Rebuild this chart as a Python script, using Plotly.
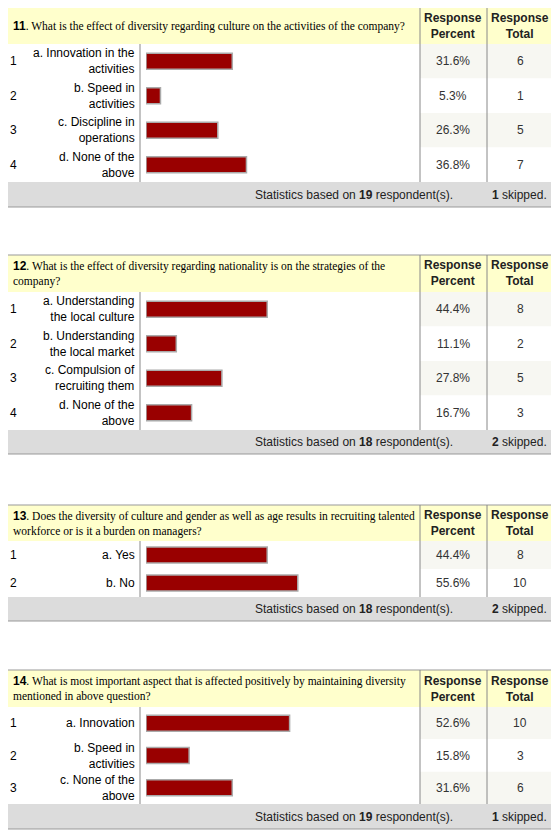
import plotly.graph_objects as go

W, H = 559, 833
OFF = 8  # default page margin of the html body

# ---- data ----
q_numbers = ["11", "12", "13", "14"]
q_texts = [
    "What is the effect of diversity regarding culture on the activities of the company?",
    "What is the effect of diversity regarding nationality is on the strategies of the<br>company?",
    "Does the diversity of culture and gender as well as age results in recruiting talented<br>workforce or is it a burden on managers?",
    "What is most important aspect that is affected positively by maintaining diversity<br>mentioned in above question?",
]
q_labels = [
    ["a. Innovation in the<br>activities", "b. Speed in<br>activities", "c. Discipline in<br>operations", "d. None of the<br>above"],
    ["a. Understanding<br>the local culture", "b. Understanding<br>the local market", "c. Compulsion of<br>recruiting them", "d. None of the<br>above"],
    ["a. Yes", "b. No"],
    ["a. Innovation", "b. Speed in<br>activities", "c. None of the<br>above"],
]
q_percent = [
    [31.6, 5.3, 26.3, 36.8],
    [44.4, 11.1, 27.8, 16.7],
    [44.4, 55.6],
    [52.6, 15.8, 31.6],
]
q_total = [[6, 1, 5, 7], [8, 2, 5, 3], [8, 10], [10, 3, 6]]
q_respondents = [19, 18, 18, 19]
q_skipped = [1, 2, 2, 1]

# block pixel geometry: top, header bottom, rows bottom, footer bottom
blocks = [(7, 44, 182, 207), (255, 292, 430, 454), (505, 541, 597, 621), (670, 707, 804, 829)]

L, R = 4, 553
DIV = 140
PC, TC = 420, 487
BAR0, BAR100 = 146, 419

FW, FH = W - OFF, H - OFF


def px(x):
    return (x - OFF) / FW


def py(y):
    return 1 - (y - OFF) / FH


fig = go.Figure()
shapes = []
ann = []


def rect(x0, y0, x1, y1, fill, line="rgba(0,0,0,0)", lw=0):
    shapes.append(dict(type="rect", xref="paper", yref="paper", x0=px(x0), x1=px(x1),
                       y0=py(y1), y1=py(y0), fillcolor=fill, line=dict(color=line, width=lw), layer="below"))


def vline(x, y0, y1, color="#888888"):
    shapes.append(dict(type="line", xref="paper", yref="paper", x0=px(x), x1=px(x),
                       y0=py(y1), y1=py(y0), line=dict(color=color, width=1)))


def text(x, y, s, xanchor="left", size=12, color="#000", family="Arial", align=None):
    ann.append(dict(xref="paper", yref="paper", x=px(x), y=py(y), text=s, showarrow=False,
                    xanchor=xanchor, yanchor="middle", align=align or xanchor,
                    font=dict(size=size, color=color, family=family)))


for b, (top, hb, rb, fb) in enumerate(blocks):
    n = len(q_labels[b])
    rh = (rb - hb) / n
    rect(L, top, R, fb, "white")
    rect(L, top, R, hb, "#ffffcc")
    for i in range(n):
        y0 = hb + i * rh
        rect(PC, y0, R, y0 + rh, "#f7f7f2" if i % 2 == 0 else "#ffffff")
    rect(L, rb, R, fb, "#dcdcdc")
    rect(L, top, R, fb, "rgba(0,0,0,0)", "#999999", 1)
    vline(DIV, hb, rb)
    vline(PC, top, rb)
    vline(TC, top, rb)

    text(11, (top + hb) / 2,
         "<span style='font-family:Arial;font-size:12px'><b>%s</b></span>. %s" % (q_numbers[b], q_texts[b]),
         size=11.5, family="Liberation Serif")
    text((PC + TC) / 2, (top + hb) / 2, "<b>Response<br>Percent</b>", xanchor="center", color="#222")
    text((TC + R) / 2, (top + hb) / 2, "<b>Response<br>Total</b>", xanchor="center", color="#222")
    for i in range(n):
        yc = hb + (i + 0.5) * rh
        text(8, yc, str(i + 1))
        text(137, yc, q_labels[b][i], xanchor="right", align="right")
        text((PC + TC) / 2, yc, "%.1f%%" % q_percent[b][i], xanchor="center", color="#333")
        text((TC + R) / 2, yc, str(q_total[b][i]), xanchor="center", color="#333")
    text(455, (rb + fb) / 2, "Statistics based on <b>%d</b> respondent(s)." % q_respondents[b],
         xanchor="right", color="#222")
    text(549, (rb + fb) / 2, "<b>%d</b> skipped." % q_skipped[b], xanchor="right", color="#222")

    k = "" if b == 0 else str(b + 1)
    fig.add_trace(go.Bar(
        x=q_percent[b], y=list(range(n)), orientation="h", width=16 / rh,
        marker=dict(color="#990000", line=dict(color="#aaaaaa", width=1.5)),
        xaxis="x" + k, yaxis="y" + k, hoverinfo="skip", showlegend=False))
    fig.layout["xaxis" + k] = dict(domain=[px(BAR0), px(BAR100)], range=[0, 100], visible=False,
                                   fixedrange=True)
    fig.layout["yaxis" + k] = dict(domain=[py(rb), py(hb)], range=[n - 0.5, -0.5], visible=False,
                                   fixedrange=True)

fig.update_layout(width=FW, height=FH, margin=dict(l=0, r=0, t=0, b=0),
                  paper_bgcolor="white", plot_bgcolor="rgba(0,0,0,0)",
                  shapes=shapes, annotations=ann)
fig.write_html("out.html")
